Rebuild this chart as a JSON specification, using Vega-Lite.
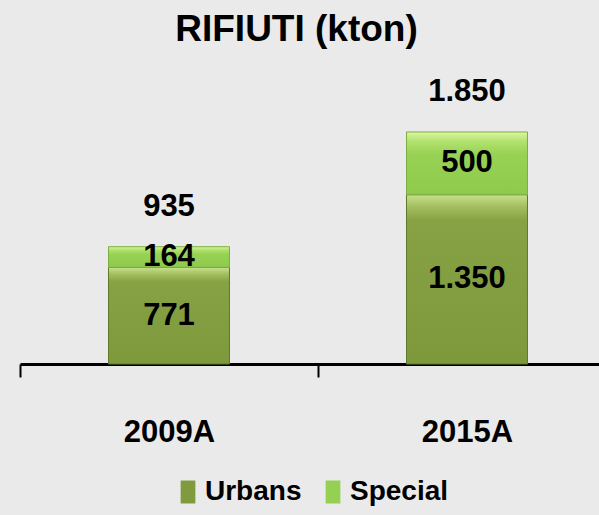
{
  "$schema": "https://vega.github.io/schema/vega-lite/v6.json",
  "width": 579,
  "height": 301,
  "autosize": {"type": "none"},
  "padding": {"left": 20, "top": 63, "right": 0, "bottom": 151},
  "background": "#eaeaea",
  "title": {
    "text": "RIFIUTI (kton)",
    "fontSize": 37,
    "font": "Liberation Sans",
    "fontWeight": "bold",
    "color": "black",
    "anchor": "middle",
    "baseline": "alphabetic",
    "offset": 21,
    "dy": 36,
    "dx": -13
  },
  "data": {
    "values": [
      {"year": "2009A", "series": "Urbans", "value": 771},
      {"year": "2009A", "series": "Special", "value": 164},
      {"year": "2015A", "series": "Urbans", "value": 1350},
      {"year": "2015A", "series": "Special", "value": 500}
    ]
  },
  "encoding": {
    "x": {
      "field": "year",
      "type": "nominal",
      "scale": {"range": [0, 596], "paddingInner": 0.594, "paddingOuter": 0.297},
      "axis": {
        "title": null,
        "labelAngle": 0,
        "domainColor": "black",
        "domainWidth": 3,
        "ticks": true,
        "tickOffset": -149,
        "labelOffset": 149,
        "tickColor": "black",
        "tickWidth": 2,
        "tickSize": 13,
        "labelFont": "Liberation Sans",
        "labelFontWeight": "bold",
        "labelFontSize": 31,
        "labelColor": "black",
        "labelPadding": 40
      }
    }
  },
  "layer": [
    {
      "mark": {"type": "bar", "strokeWidth": 0},
      "encoding": {
        "y": {"field": "value", "type": "quantitative", "stack": "zero", "scale": {"domain": [0, 2400]}, "axis": null},
        "color": {
          "field": "series",
          "type": "nominal",
          "scale": {"domain": ["Urbans", "Special"], "range": ["#7f9b3e", "#95d052"]},
          "legend": {
            "title": null,
            "orient": "none",
            "direction": "horizontal",
            "legendX": 154,
            "legendY": 415,
            "symbolType": "M-0.64,-1H0.64V1H-0.64Z",
            "symbolSize": 529,
            "symbolStrokeWidth": 0,
            "labelFont": "Liberation Sans",
            "labelFontWeight": "bold",
            "labelFontSize": 28,
            "labelColor": "black",
            "labelOffset": 3,
            "columnPadding": 17
          }
        },
        "order": {"field": "series", "sort": "descending"}
      }
    },
    {
      "mark": {"type": "bar", "strokeWidth": 1},
      "encoding": {
        "y": {"field": "value", "type": "quantitative", "stack": "zero"},
        "detail": {"field": "series"},
        "color": {
          "condition": {
            "test": "datum.series === 'Urbans'",
            "value": {"gradient": "linear", "x1": 0, "y1": 0, "x2": 0, "y2": 1, "stops": [
              {"offset": 0, "color": "#c8e28e"},
              {"offset": 0.07, "color": "#a3bf5e"},
              {"offset": 0.15, "color": "#86a244"},
              {"offset": 1, "color": "#7d993c"}
            ]}
          },
          "value": {"gradient": "linear", "x1": 0, "y1": 0, "x2": 0, "y2": 1, "stops": [
            {"offset": 0, "color": "#dcf7a0"},
            {"offset": 0.15, "color": "#b2e26e"},
            {"offset": 0.35, "color": "#98d254"},
            {"offset": 1, "color": "#8fca4c"}
          ]}
        },
        "stroke": {
          "condition": {"test": "datum.series === 'Urbans'", "value": "#5f7a2a"},
          "value": "#7cae45"
        },
        "order": {"field": "series", "sort": "descending"}
      }
    },
    {
      "mark": {"type": "text", "font": "Liberation Sans", "fontWeight": "bold", "fontSize": 31, "color": "black", "baseline": "middle"},
      "encoding": {
        "y": {"field": "value", "type": "quantitative", "stack": "zero", "bandPosition": 0.5},
        "text": {"field": "value", "type": "quantitative", "format": ",.0f"},
        "order": {"field": "series", "sort": "descending"},
        "detail": {"field": "series"}
      }
    },
    {
      "mark": {"type": "text", "font": "Liberation Sans", "fontWeight": "bold", "fontSize": 31, "color": "black", "baseline": "middle", "dy": -40},
      "encoding": {
        "y": {"aggregate": "sum", "field": "value", "type": "quantitative"},
        "text": {"aggregate": "sum", "field": "value", "type": "quantitative", "format": ",.0f"}
      }
    }
  ],
  "config": {
    "view": {"stroke": null},
    "locale": {"number": {"decimal": ",", "thousands": ".", "grouping": [3], "currency": ["€", ""]}}
  }
}
